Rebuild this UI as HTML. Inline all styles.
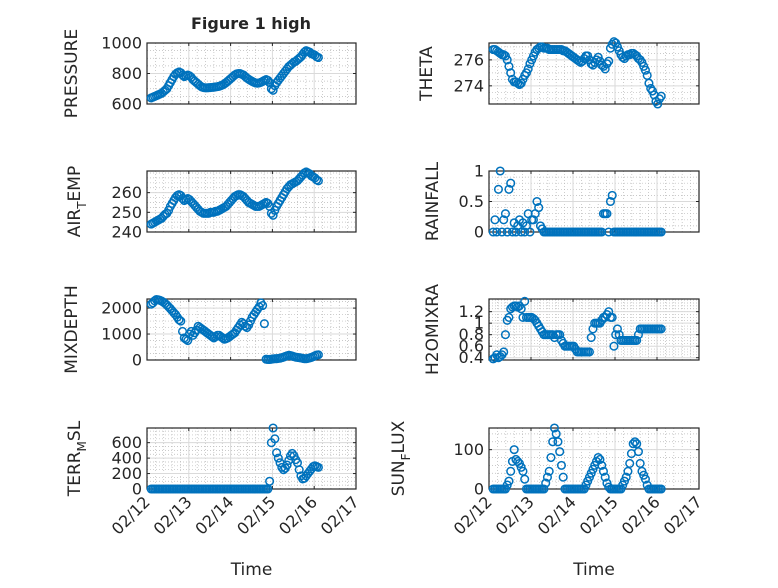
<!DOCTYPE html>
<html><head><meta charset="utf-8">
<style>
html,body{margin:0;padding:0;background:#fff;}
svg text{font-family:"DejaVu Sans","Liberation Sans",sans-serif;fill:#262626;}
</style></head>
<body>
<svg id="fig" width="778" height="583" viewBox="0 0 778 583" xmlns="http://www.w3.org/2000/svg">
<rect x="0" y="0" width="778" height="583" fill="#fff"/>
<text x="251" y="29" text-anchor="middle" font-size="16" font-weight="bold">Figure 1 high</text>
</svg>
<script>
const xTickLabels = ["02/12","02/13","02/14","02/15","02/16","02/17"];
const pressure = [640,645,650,655,660,665, 670,680,690,700,720,740, 760,780,795,805,810,805, 790,780,785,790,785,775, 760,750,740,730,720,712, 708,706,706,707,708,709, 710,712,714,716,720,725, 732,740,750,760,770,780, 790,797,800,800,795,790, 780,770,762,755,748,742, 738,736,738,742,748,755, 760,755,740,700,690,720, 740,755,770,785,800,815, 830,845,855,865,875,880, 890,900,910,925,940,950, 945,940,930,925,920,910, 905];
const airTemp = [244,244.5,245,245.5,246,246.5, 247,248,249,249.5,251,253, 254.5,256,257.5,258.5,259,258.5, 257,256,256.5,257,256.5,255.5, 254.5,253.5,252.5,251.5,250.5,250, 249.5,249.5,249.5,249.5,250,250, 250,250.5,250.5,251,251.5,252, 252.5,253,254,255,256,257, 258,258.5,259,259,258.5,258, 257,256,255,254.5,254,253.5, 253,253,253,253.5,254,254.5, 255,254.5,253,249.5,248.5,251, 253,254.5,256,257.5,259,260.5, 262,263,264,264.5,265,265.5, 266,267,268,269,270,270.5, 270,269.5,268.5,268,267.5,266.5, 266];
const mixDepth = [2150,2200,2280,2330,2320,2300, 2270,2230,2180,2120,2050,1980, 1900,1820,1750,1650,1550,1500, 1100,850,800,750,1000,1100, 950,1050,1150,1300,1250,1200, 1150,1100,1050,1000,950,900, 850,900,950,950,900,850, 800,820,850,900,950,1000, 1050,1150,1250,1350,1450,1400, 1300,1250,1350,1500,1650,1750, 1850,1950,2050,2200,2100,1400, 30,20,20,30,40,50, 50,60,70,90,110,140, 160,180,170,150,130,110, 100,90,80,60,50,50, 60,80,100,130,160,190,200];
const terrMsl = [0,0,0,0,0,0,0,0,0,0, 0,0,0,0,0,0,0,0,0,0, 0,0,0,0,0,0,0,0,0,0, 0,0,0,0,0,0,0,0,0,0, 0,0,0,0,0,0,0,0,0,0, 0,0,0,0,0,0,0,0,0,0, 0,0,0,0,0,0,0,0, 100,600,790,650,470,400,340,280,250,270,310,370,430,460,430,380,340,250,170,130,140,170,200,230,260,290,300,290,280];
const theta = [276.8,276.8,276.7,276.6,276.5,276.4, 276.4,276.3,276.0,275.5,275.0,274.5, 274.3,274.3,274.2,274.1,274.2,274.5, 274.8,275.0,275.3,275.7,276.0,276.3, 276.6,276.8,276.9,277.0,277.0,276.9, 276.9,276.9,276.8,276.8,276.8,276.8, 276.8,276.8,276.8,276.8,276.7,276.7, 276.6,276.5,276.4,276.3,276.2,276.1, 276.0,275.9,275.8,275.9,276.1,276.3, 276.3,276.0,275.7,275.6,275.8,276.0, 276.2,275.9,275.6,275.5,275.3,275.7, 275.9,276.9,277.2,277.4,277.3,277.0, 276.7,276.4,276.2,276.1,276.3,276.4, 276.4,276.5,276.5,276.4,276.3,276.1, 276.0,275.8,275.5,275.2,274.8,274.2, 273.8,273.6,273.3,272.8,272.6,273.0, 273.2];
const rainfall = [0,0.2,0,0.7,1.0,0,0.2,0.3,0,0.7,0.8,0,0.15,0,0.1,0.2,0,0.15,0,0.1,0.3,0,0.2,0.2,0.3,0.5,0.4,0.1,0.05,0, 0,0,0,0,0,0,0,0,0,0,0,0,0,0,0,0,0,0,0,0,0,0,0,0,0,0,0,0,0,0,0,0,0, 0.3,0.3,0.3,0,0.5,0.6,0, 0,0,0,0,0,0,0,0,0,0,0,0,0,0,0,0,0,0,0,0,0,0,0,0,0,0,0];
const h2oMix = [0.38,0.4,0.45,0.4,0.42,0.45, 0.5,0.8,1.05,1.1,1.25,1.28, 1.3,1.3,1.28,1.3,1.25,1.1, 1.38,1.1,1.1,1.1,1.1,1.08, 1.05,1.0,0.95,0.9,0.85,0.8, 0.8,0.8,0.8,0.8,0.8,0.75, 0.8,0.8,0.8,0.7,0.65,0.6, 0.6,0.6,0.6,0.6,0.6,0.55, 0.5,0.5,0.5,0.5,0.5,0.5, 0.5,0.5,0.75,0.9,1.0,1.0, 1.0,1.0,1.05,1.1,1.1,1.15, 1.2,1.1,1.1,0.6,0.8,0.9, 0.8,0.7,0.7,0.7,0.7,0.7, 0.7,0.7,0.7,0.7,0.7,0.8, 0.9,0.9,0.9,0.9,0.9,0.9, 0.9,0.9,0.9,0.9,0.9,0.9,0.9];
const sunFlux = [0,0,0,0,0,0,0,0, 10,20,45,70,100,75,70,65,55,45,25,0,0, 0,0,0,0,0,0,0,0,0, 15,30,45,80,120,155,140,120,95,60,30,0,0, 0,0,0,0,0,0,0,0,0,0, 10,20,30,40,50,60,70,80,75,60,45,30,15,5,0, 0,0,0,0,0,0, 10,20,30,45,65,90,115,120,115,95,65,45,35,25,10,0, 0,0,0,0,0,0,0];
const startDay = 0.1, stepDay = 1/24;

const svg = document.getElementById('fig');
const NS = 'http://www.w3.org/2000/svg';
function mk(tag, attrs, parent){const e=document.createElementNS(NS,tag);for(const k in attrs)e.setAttribute(k,attrs[k]);(parent||svg).appendChild(e);return e;}

const cols = [{x0:147,x1:356},{x0:489,x1:699}];
const rows = [43,171,299,428];
const H = 61;
const panels = [
 {name:'pressure',col:0,row:0,data:pressure,min:600,max:1000,ticks:[600,800,1000],minor:50,label:['PRESSURE'],lx:77},
 {name:'air-temp',col:0,row:1,data:airTemp,min:240,max:271,ticks:[240,250,260],minor:2.5,label:['AIR','T','EMP'],lx:80},
 {name:'mixdepth',col:0,row:2,data:mixDepth,min:0,max:2350,ticks:[0,1000,2000],minor:250,label:['MIXDEPTH'],lx:77},
 {name:'terr-msl',col:0,row:3,data:terrMsl,min:0,max:790,ticks:[0,200,400,600],minor:50,label:['TERR','M','SL'],lx:80},
 {name:'theta',col:1,row:0,data:theta,min:272.6,max:277.3,ticks:[274,276],minor:0.5,label:['THETA'],lx:432},
 {name:'rainfall',col:1,row:1,data:rainfall,min:0,max:1,ticks:[0,0.5,1],minor:0.1,label:['RAINFALL'],lx:438},
 {name:'h2omixra',col:1,row:2,data:h2oMix,min:0.36,max:1.42,ticks:[0.4,0.6,0.8,1,1.2],minor:0.05,label:['H2OMIXRA'],lx:438},
 {name:'sun-flux',col:1,row:3,data:sunFlux,min:0,max:155,ticks:[0,100],minor:20,label:['SUN','F','LUX'],lx:404}
];

panels.forEach(p=>{
  const c=cols[p.col], top=rows[p.row], bot=top+H;
  const xs=d=>c.x0+(d/5)*(c.x1-c.x0);
  const ys=v=>bot-(v-p.min)/(p.max-p.min)*H;
  const g=mk('g',{});
  
  
  for(let d=0.2;d<5;d+=0.2){ if(Math.abs(d-Math.round(d))<0.01) continue;
    mk('line',{x1:xs(d),x2:xs(d),y1:top,y2:bot,stroke:'#b8b8b8','stroke-width':0.7,'stroke-dasharray':'1,2'},g);}
  for(let v=Math.ceil(p.min/p.minor)*p.minor; v<p.max; v+=p.minor){
    mk('line',{x1:c.x0,x2:c.x1,y1:ys(v),y2:ys(v),stroke:'#b8b8b8','stroke-width':0.7,'stroke-dasharray':'1,2'},g);}
  for(let d=1;d<5;d++) mk('line',{x1:xs(d),x2:xs(d),y1:top,y2:bot,stroke:'#dadada','stroke-width':1},g);
  p.ticks.forEach(v=>{ if(v>p.min&&v<p.max) mk('line',{x1:c.x0,x2:c.x1,y1:ys(v),y2:ys(v),stroke:'#dadada','stroke-width':1},g);});
  const box=mk('rect',{x:c.x0,y:top,width:c.x1-c.x0,height:H,fill:'none',stroke:'#262626','stroke-width':1.2},g);
  
  
  for(let d=0;d<=5;d++){ mk('line',{x1:xs(d),x2:xs(d),y1:bot,y2:bot-3,stroke:'#262626'},g); mk('line',{x1:xs(d),x2:xs(d),y1:top,y2:top+3,stroke:'#262626'},g);}
  p.ticks.forEach(v=>{
    mk('line',{x1:c.x0,x2:c.x0+3,y1:ys(v),y2:ys(v),stroke:'#262626'},g);
    mk('line',{x1:c.x1,x2:c.x1-3,y1:ys(v),y2:ys(v),stroke:'#262626'},g);
    const t=mk('text',{x:c.x0-5,y:ys(v)+5.5,'text-anchor':'end','font-size':16},g);
    t.textContent=String(v);
    
    
  });
  const cy=top+H/2;
  const lab=mk('text',{x:p.lx,y:cy,'text-anchor':'middle','font-size':17,transform:`rotate(-90 ${p.lx} ${cy})`},g);
  
  
  if(p.label.length===1){ lab.textContent=p.label[0]; }
  else {
    const a=mk('tspan',{},lab); a.textContent=p.label[0];
    const b=mk('tspan',{dy:6,'font-size':12},lab); b.textContent=p.label[1];
    const c2=mk('tspan',{dy:-6},lab); c2.textContent=p.label[2];
  }
  const mg=mk('g',{fill:'none',stroke:'#0072BD','stroke-width':1.5},g);
  
  
  p.data.forEach((v,i)=>{
    const m=mk('circle',{cx:xs(startDay+i*stepDay),cy:ys(v),r:3.8},mg);
    
    
  });
  if(p.row===3){
    xTickLabels.forEach((s,d)=>{
      const x=xs(d), y=bot+10;
      const t=mk('text',{x:x+4,y:y+4,'text-anchor':'end','font-size':16,transform:`rotate(-45 ${x+4} ${y+4})`},g);
      t.textContent=s;
      
      
    });
    const tl=mk('text',{x:(c.x0+c.x1)/2,y:575,'text-anchor':'middle','font-size':17},g);
    tl.textContent='Time';
    
    
  }
});
</script>
</body></html>
